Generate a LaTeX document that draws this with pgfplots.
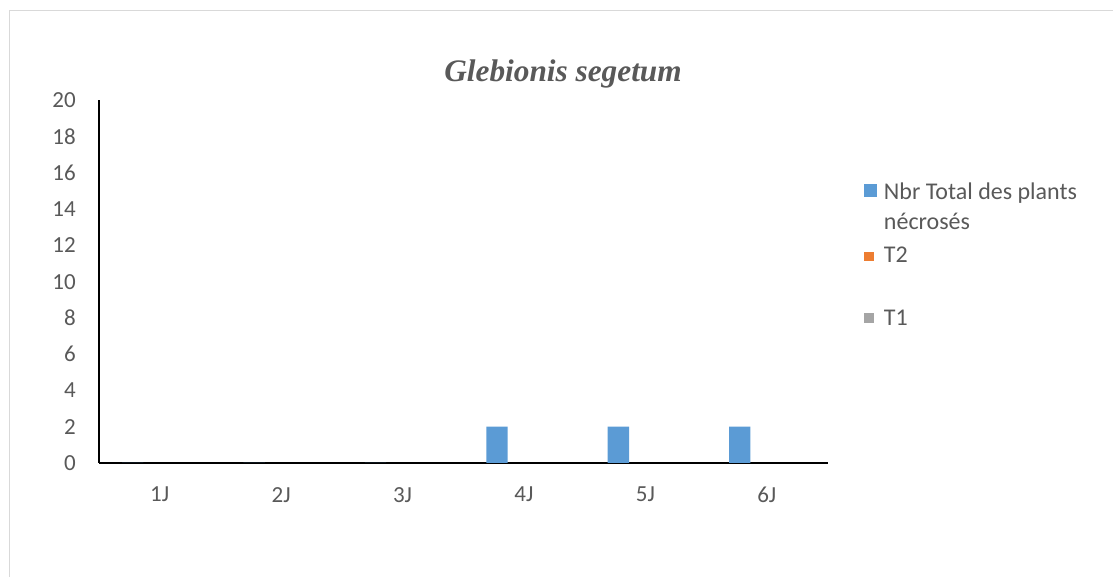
\documentclass[border=0pt]{standalone}
\usepackage{pgfplots}
\pgfplotsset{compat=1.18}
\usepackage{fontspec}
\setmainfont{Carlito}
\newfontfamily\titlefont{Liberation Serif}
\definecolor{sblue}{HTML}{5B9BD5}
\definecolor{sorange}{HTML}{ED7D31}
\definecolor{sgray}{HTML}{A5A5A5}
\definecolor{txt}{HTML}{595959}
\definecolor{frame}{HTML}{D9D9D9}
\begin{document}
\begin{tikzpicture}
\path[use as bounding box] (0,0) rectangle (1113pt,577pt);
\begin{axis}[
  at={(99pt,114pt)}, anchor=south west,
  scale only axis, width=728.5pt, height=362.5pt,
  xmin=-0.5, xmax=5.5, ymin=0, ymax=20,
  xtick={0,1,2,3,4,5}, xticklabels={1J,2J,3J,4J,5J,6J},
  ytick={0,2,...,20},
  major tick length=0pt,
  axis x line*=bottom, axis y line*=left,
  axis line style={black, line width=2pt, -},
  tick label style={font=\fontsize{23}{28}\selectfont, text=txt},
  /pgf/number format/assume math mode=true,
  yticklabel style={anchor=east, inner sep=0pt},
  xticklabel style={anchor=north, inner sep=0pt},
  yticklabel shift=23pt,
  xticklabel shift=24pt,
  title={\titlefont\bfseries\itshape Glebionis segetum},
  title style={at={(rel axis cs:0.637,1.0372)}, anchor=base, text=txt, font=\fontsize{31.3}{36}\selectfont, inner sep=0pt},
  ybar, bar width=21.4pt,
  legend cell align=left,
  legend style={at={(rel axis cs:1.0498,0.778)}, anchor=north west, draw=none, fill=none,
    inner sep=0pt, row sep=0pt, column sep=7pt,
    font=\fontsize{24}{30}\selectfont, text=txt,
    nodes={inner sep=0pt, text height=18pt, text depth=45pt}},
]
\addplot[fill=sblue, draw=none, bar shift=-27pt,
  legend image code/.code={\fill[sblue] (0pt,16pt) rectangle (13pt,29pt);}]
  coordinates {(0,0) (1,0) (2,0) (3,2) (4,2) (5,2)};
\addlegendentry{\parbox[t]{225pt}{Nbr Total des plants\\nécrosés}}
\addplot[fill=none, draw=none, bar shift=0pt,
  legend image code/.code={\fill[sorange] (0pt,15pt) rectangle (10pt,24pt);}]
  coordinates {(0,0) (1,0) (2,0) (3,0) (4,0) (5,0)};
\addlegendentry{T2}
\addplot[fill=none, draw=none, bar shift=27pt,
  legend image code/.code={\fill[sgray] (0pt,16pt) rectangle (10pt,26pt);}]
  coordinates {(0,0) (1,0) (2,0) (3,0) (4,0) (5,0)};
\addlegendentry{T1}
\end{axis}
\draw[frame, line width=1.5pt] (9.5pt,0pt) -- (9.5pt,566.5pt) -- (1113pt,566.5pt);
\end{tikzpicture}
\end{document}
